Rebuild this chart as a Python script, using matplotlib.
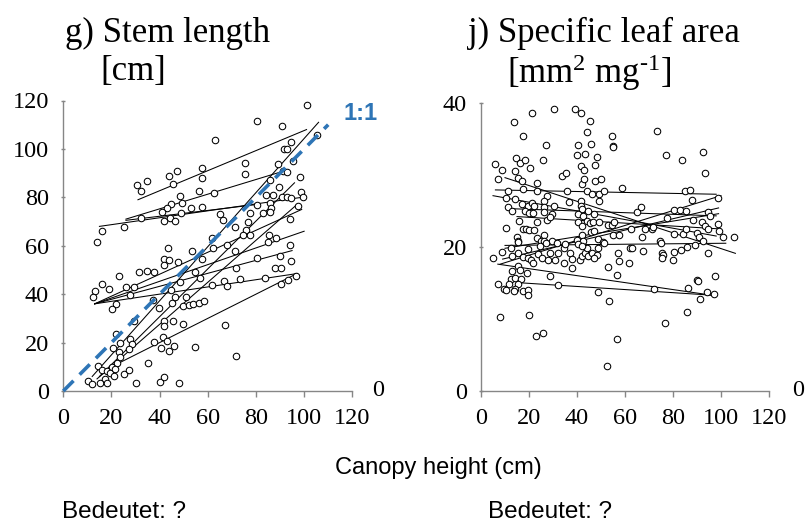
import matplotlib
matplotlib.use("Agg")
import matplotlib.pyplot as plt

# fonts
plt.rcParams['font.family'] = ['Liberation Serif', 'DejaVu Serif']
plt.rcParams['mathtext.fontset'] = 'custom'
plt.rcParams['mathtext.rm'] = 'Liberation Serif'
plt.rcParams['mathtext.it'] = 'Liberation Serif:italic'

# ---- data: g) stem length vs canopy height ----
stem_x = [101, 80.3, 90.7, 105.3, 62.9, 94.6, 91.7, 92.8, 89, 95.3, 75.4, 75.3, 57.6, 57.5,
          47.2, 44, 45.5, 34.7, 30.5, 32.1, 91.1, 92.8, 85.7, 89.4, 98.3, 56.5, 62.5, 48.6,
          49.3, 44.9, 42.9, 41, 52.9, 57.6, 49, 32.1, 41.7, 44.4, 46.5, 25.4, 16.1, 14.2,
          65, 66.4, 71.2, 61.8, 80.3, 77.5, 82.9, 76.8, 75.7, 74.6, 77.4, 84.3, 87.1, 85.8,
          86.4, 86, 90.9, 92.8, 94.7, 98.9, 99.4, 97.5, 94.2, 85.4, 88.2, 94, 85.1, 43.6,
          41.7, 44, 41.8, 47.5, 53.5, 57.6, 62.1, 68, 71.2, 80.5, 89.8, 94.7, 71.9, 87.8,
          90.5, 83.7, 73.3, 66.9, 68.1, 61.9, 90.5, 93.5, 96.8, 31.5, 34.6, 37.8, 23, 54.7,
          48.3, 56.9, 26.1, 29.4, 16, 13.3, 12.5, 18.9, 27.9, 21.8, 20.1, 37.1, 39.9, 44.9,
          46.5, 51.1, 49.9, 52.1, 53.7, 56.5, 58.6, 45.3, 45.7, 41.9, 41.7, 49.6, 67.2, 29.4,
          27.6, 28.5, 27.1, 37.5, 41.2, 40.4, 43, 44, 45.8, 54.7, 71.7, 21.8, 23.6, 23.3,
          23.6, 20.8, 35, 25.4, 27.4, 14.3, 16, 18, 20.1, 22.4, 19.4, 21.5, 21.1, 17.4,
          10.4, 15.3, 11.8, 18, 30.3, 40, 41.9, 48.2]
stem_y = [118, 111.4, 109.3, 105.9, 103.5, 103, 100.1, 100.1, 93.9, 95, 94.1, 89.8, 92.3, 88,
          90.8, 88.8, 85.7, 86.9, 85, 82.6, 90.8, 90.5, 87.1, 84.3, 88.4, 82.6, 81.8, 80.4,
          77.7, 77.1, 75.8, 74.1, 75.6, 75.9, 73.6, 71.4, 70.1, 71.4, 70.3, 67.7, 66, 61.6,
          73.2, 70.6, 67.8, 63.3, 76.7, 73.6, 73.7, 69.9, 66.4, 64.4, 64.4, 80.9, 80.9, 77.7,
          75.4, 74, 80.2, 80, 79.9, 82, 80.2, 76.3, 71.2, 64.4, 63, 60.2, 61.6, 59,
          54.5, 54.1, 52, 53.2, 57.9, 54.5, 58.9, 60.2, 57.8, 55, 55.7, 53.8, 51, 51,
          51, 46.5, 46.1, 45.4, 43.3, 43.7, 44.3, 45.8, 47.5, 49.2, 49.7, 49, 47.5, 49.2,
          45.1, 46.8, 42.9, 42.9, 44, 41.5, 39, 42, 39.6, 35.8, 33.7, 37.6, 34.1, 41.7,
          38.9, 38.9, 35.1, 35.5, 35.9, 36.2, 37.3, 36.2, 29, 29, 26.8, 27.5, 27.1, 29,
          21.5, 19.4, 17.2, 20.4, 22.4, 17.6, 20.8, 16.4, 18.6, 18.3, 14.3, 23.5, 19.7, 16,
          14.2, 17.6, 11.4, 7, 8.6, 10.3, 8.7, 8.4, 10.1, 11.4, 7.6, 9, 6.2, 4.8,
          4.3, 3.2, 2.9, 3.2, 3.2, 3.7, 5.7, 3.2]

# fitted lines per population (start x, end x, start y, end y)
stem_fit_x0 = [31, 26, 15, 26, 12, 15, 14, 13, 13, 13, 13, 22]
stem_fit_x1 = [101, 92, 99, 80, 106, 96, 97, 99, 100, 95, 97, 97]
stem_fit_y0 = [79, 71, 68, 70.5, 6, 6, 5, 36, 36, 36, 36, 11]
stem_fit_y1 = [108, 91, 80, 77, 111, 86, 77, 75, 66, 58, 48.5, 48.5]

one_to_one = [0, 110]

# ---- data: j) specific leaf area vs canopy height ----
sla_x = [30.3, 39.2, 41.7, 21.3, 13.75, 45.4, 44.2, 17.5, 54.7, 73.2, 26.9, 40.6, 45.8, 54.9,
         55, 77, 83.9, 92.6, 39.9, 43.3, 48.3, 25.7, 14.4, 16.1, 18.5, 5.8, 8.6, 14.2,
         20.3, 41.7, 43.1, 47.4, 93.3, 33.6, 35.3, 6.9, 15.3, 17.1, 41.9, 42.9, 47.5, 49.9,
         23.3, 11.1, 17.5, 23.3, 35.7, 44, 46.1, 49.3, 51.3, 58.6, 85, 87.1, 88.1, 98.6,
         27.4, 10.4, 14.2, 36.8, 41.7, 49.3, 11.4, 12.8, 17, 19.7, 21.1, 22.2, 26.4, 26.4,
         30.6, 18.3, 20.1, 21.8, 26.4, 29.4, 41.5, 41.9, 44.7, 47, 40.6, 42.6, 65, 66.5,
         80.4, 82.8, 85.4, 94.7, 95.4, 77.5, 16, 23.2, 27.4, 28.75, 40.6, 42, 44, 45.4,
         46.8, 49.2, 53, 54.4, 55.4, 10.3, 17.4, 18.75, 20.1, 22.1, 26.25, 42, 45.8, 47.2,
         55.1, 57.6, 62.5, 66.9, 68.3, 71.1, 71.8, 80.4, 84.3, 85.3, 88.5, 90.1, 92, 93.3,
         94.7, 98.9, 99.3, 100.7, 105.3, 15.1, 15.6, 23.2, 24.9, 26.25, 29.4, 39.9, 42.6, 48.9,
         50.7, 74.7, 91, 92.6, 4.9, 8.6, 12.5, 15.6, 19.7, 13.1, 15.6, 17.4, 19.4, 20.8,
         21.8, 24.6, 23.9, 25.3, 27.8, 28.75, 30.8, 31.9, 34.7, 34.6, 37.1, 37.8, 37.8, 41.25,
         41.9, 43.3, 44.7, 46.1, 48.2, 47.2, 48.6, 44, 40.6, 41.9, 53, 57.2, 57.5, 56.5,
         62.1, 63.1, 61.8, 67.6, 75, 75.6, 76, 75.6, 79.9, 80.4, 83.3, 85.7, 89.2, 94.7,
         12.8, 15.3, 16.25, 19.3, 12.5, 14.2, 16.5, 15.6, 11.7, 6.9, 9.6, 10.3, 14.2, 13.9,
         17.4, 19.7, 19.7, 28.75, 32.2, 48.6, 53.5, 72.1, 86.1, 89.9, 90.6, 97.5, 94, 91.25,
         96.9, 8.1, 20.1, 22.9, 26, 56.5, 52.4, 76.7, 86, 27.1, 31.5, 35, 51.3]
sla_y = [39.1, 39.1, 38.6, 38.6, 37.3, 37.5, 35.9, 35.4, 35.4, 36.1, 34.1, 34.2, 34.3, 34,
         33.8, 32.7, 32.1, 33.2, 32.8, 32.9, 32.4, 32.1, 32.3, 31.7, 32.1, 31.5, 30.7, 30.5,
         30.9, 31.2, 30.6, 31.4, 30.3, 29.8, 30.3, 29.4, 29.6, 29.1, 28.7, 29.4, 29.1, 29.4,
         28.8, 27.8, 28, 27.8, 27.7, 27.7, 27.3, 27.3, 27.7, 28.1, 27.7, 27.9, 26.5, 26.75,
         27, 26.75, 26.6, 26.2, 26.3, 26.3, 25.5, 25, 25.9, 25.7, 26.1, 25.7, 26.3, 25.5,
         25.7, 25, 24.7, 24.7, 24.8, 24.6, 25.7, 25.3, 25, 24.6, 24.6, 24.3, 24.9, 25.5,
         25.1, 25.1, 25, 24.9, 24.3, 24, 23.6, 23.5, 23.7, 24.2, 23.5, 22.9, 23.6, 23.3,
         23.4, 23.4, 23.1, 23.1, 23.4, 22.6, 22.5, 22.5, 22.4, 22.3, 21.7, 21.7, 22, 22.2,
         21.7, 21.7, 22.5, 21.4, 22.5, 22.5, 22.7, 21.8, 21.8, 22.5, 23.7, 21.9, 23.5, 22.9,
         22.5, 23.2, 22.2, 21.4, 21.4, 21.4, 20.8, 21.2, 20.8, 20.8, 20.75, 20.9, 20.8, 21.1,
         20.7, 20.8, 21.4, 20.8, 18.5, 19.35, 19.9, 20.7, 19.7, 18.75, 19.2, 18.65, 18.5, 18.2,
         17.8, 20.1, 19, 18.5, 18.2, 19.2, 18.2, 19.2, 19.8, 17.7, 19.2, 17.1, 18.3, 18.2,
         18.75, 19.2, 18.75, 19.1, 18.8, 18.5, 19.9, 19.9, 20.4, 20.1, 17.2, 19.2, 18, 16.1,
         19.8, 19.8, 17.8, 19.4, 20.5, 19.2, 18.8, 18.4, 18.2, 19.3, 19.6, 20, 20.2, 19.1,
         16.6, 17.35, 16.8, 16.4, 15.6, 15.7, 15.5, 14.8, 14.9, 14.9, 14.1, 13.95, 14.2, 13.9,
         13.9, 14, 13.3, 15.95, 14.65, 13.8, 12.5, 14.1, 14.3, 15.4, 15.2, 16, 13.8, 12.8,
         13.4, 10.2, 10.6, 7.6, 8.05, 7.25, 3.4, 9.5, 10.9, 20.6, 20.5, 20.4, 20.5]

sla_fit_x0 = [6, 10, 5, 12, 15, 8, 9, 10, 10, 7, 17]
sla_fit_x1 = [98, 106, 98, 98, 99, 100, 99, 99, 102, 96, 96]
sla_fit_y0 = [27.9, 29.6, 27.1, 25.3, 24.2, 17.6, 18.3, 19.8, 20.2, 17.6, 15.0]
sla_fit_y1 = [27.3, 19.1, 21.5, 24.3, 22.5, 27.1, 25.4, 24.6, 20.5, 13.3, 13.3]

x_ticks = [0, 20, 40, 60, 80, 100, 120]

W, H = 805, 525
fig = plt.figure(figsize=(W / 100, H / 100), dpi=100)

ax1 = fig.add_axes([63.3 / W, (H - 391) / H, 289 / W, 290.5 / H])
ax2 = fig.add_axes([481 / W, (H - 391) / H, 288 / W, 288.3 / H])

spine_col = '#868686'


def style_axis(ax, ymax, yticks):
    ax.set_xlim(0, 120)
    ax.set_ylim(0, ymax)
    ax.set_xticks(x_ticks)
    ax.set_yticks(yticks)
    for s in ['top', 'right']:
        ax.spines[s].set_visible(False)
    for s in ['left', 'bottom']:
        ax.spines[s].set_color(spine_col)
        ax.spines[s].set_linewidth(1.0)
    ax.tick_params(axis='x', direction='out', length=4.5, width=1, color=spine_col,
                   labelsize=17.5, pad=8)
    ax.tick_params(axis='y', direction='inout', length=2.5, width=1, color=spine_col,
                   labelsize=17.5, pad=9)
    ax.patch.set_alpha(0)


def draw_panel(ax, xs, ys, fx0, fx1, fy0, fy1):
    for a, b, c, d in zip(fx0, fx1, fy0, fy1):
        ax.plot([a, b], [c, d], color='black', lw=0.75, zorder=2)
    ax.scatter(xs, ys, s=22, facecolors='white', edgecolors='black',
               linewidths=0.75, zorder=3, clip_on=False)


def ftext(x, y, s, **kw):
    fig.text(x / W, 1 - y / H, s, **kw)


# left panel
style_axis(ax1, 120, [0, 20, 40, 60, 80, 100, 120])
draw_panel(ax1, stem_x, stem_y, stem_fit_x0, stem_fit_x1, stem_fit_y0, stem_fit_y1)
ax1.plot(one_to_one, one_to_one, color='#2E75B6', lw=2.6, dashes=(4, 2.4),
         zorder=4, clip_on=False)
ftext(361, 113, '1:1', color='#2E75B6', fontsize=17, fontweight='bold',
      family='Liberation Sans', ha='center', va='center')

# right panel
style_axis(ax2, 40, [0, 20, 40])
draw_panel(ax2, sla_x, sla_y, sla_fit_x0, sla_fit_x1, sla_fit_y0, sla_fit_y1)

# stray "0" labels at the right end of the x axes
ftext(378, 391, '0', fontsize=17.5, ha='center', va='center')
ftext(798, 391, '0', fontsize=17.5, ha='center', va='center')

# panel titles
ftext(65, 42, 'g) Stem length', fontsize=25, va='baseline')
ftext(100, 80, '[cm]', fontsize=25, va='baseline')
ftext(468, 42, 'j) Specific leaf area', fontsize=25, va='baseline')
ftext(507, 83, r'[mm$^{2}$ mg$^{\mathrm{\text{-}1}}$]', fontsize=25, va='baseline')

# shared axis label and notes
ftext(438.5, 474, 'Canopy height (cm)', fontsize=17, family='Liberation Sans',
      ha='center', va='baseline')
ftext(62, 518, 'Bedeutet: ?', fontsize=17.5, family='Liberation Sans', va='baseline')
ftext(488, 518, 'Bedeutet: ?', fontsize=17.5, family='Liberation Sans', va='baseline')

fig.savefig('out.png', dpi=100)
